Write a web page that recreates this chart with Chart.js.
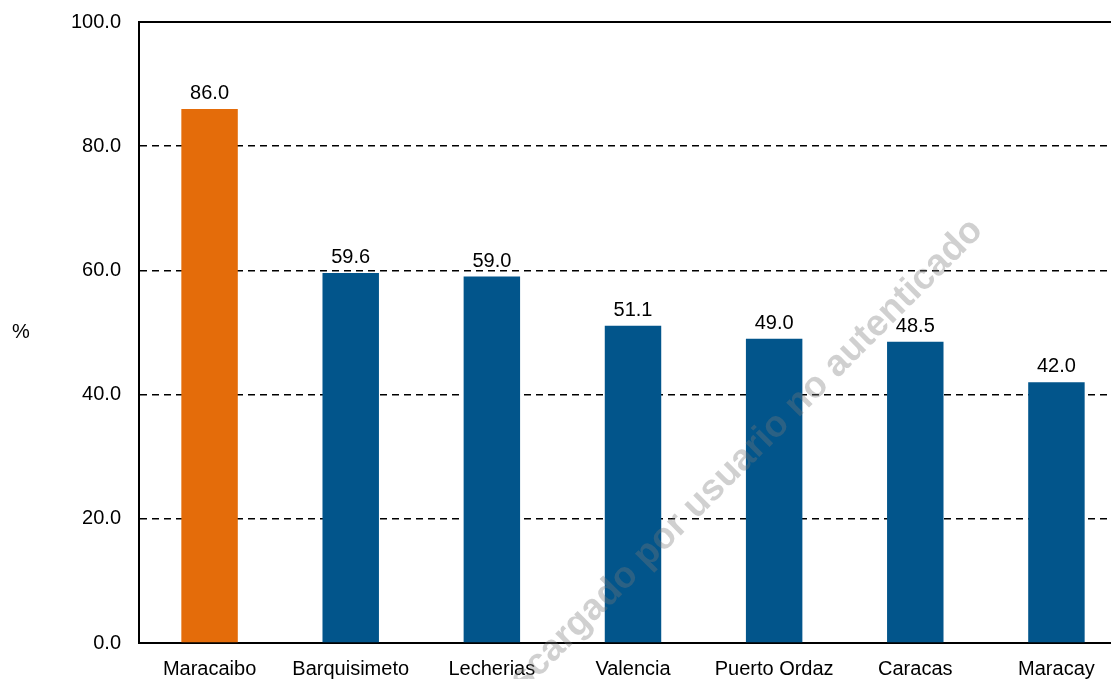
<!DOCTYPE html>
<html>
<head>
<meta charset="utf-8">
<script src="https://cdn.jsdelivr.net/npm/chart.js@4.4.0/dist/chart.umd.min.js"></script>
<style>
  html, body { margin: 0; padding: 0; background: #fff; overflow: hidden; }
  #wrap { width: 1130px; height: 679px; position: relative; }
</style>
</head>
<body>
<div id="wrap"><canvas id="myGraph"></canvas></div>
<script>
// values
let cities = ['Maracaibo', 'Barquisimeto', 'Lecherias', 'Valencia', 'Puerto Ordaz', 'Caracas', 'Maracay'];
let percents = [86.0, 59.6, 59.0, 51.1, 49.0, 48.5, 42.0];
let barColors = ['#E46C0A', '#02558B', '#02558B', '#02558B', '#02558B', '#02558B', '#02558B'];
let yTicks = [0, 20, 40, 60, 80, 100];

const font = 'Liberation Sans, Arial, sans-serif';

// labels over bars, "%" text, top frame line and the watermark
const extras = {
  id: 'extras',
  afterDatasetsDraw(chart) {
    const ctx = chart.ctx;
    const meta = chart.getDatasetMeta(0);
    ctx.save();
    ctx.fillStyle = '#000';
    ctx.font = '20px ' + font;
    ctx.textAlign = 'center';
    ctx.textBaseline = 'alphabetic';
    meta.data.forEach((bar, i) => {
      ctx.fillText(percents[i].toFixed(1), bar.x, bar.y - 10);
    });
    // top line at 100
    const a = chart.chartArea;
    ctx.strokeStyle = '#000';
    ctx.lineWidth = 2;
    ctx.beginPath();
    ctx.moveTo(a.left, a.top);
    ctx.lineTo(a.right, a.top);
    ctx.stroke();
    // axis unit
    ctx.textBaseline = 'middle';
    ctx.fillText('%', 21, 332);
    ctx.restore();
  },
  afterDraw(chart) {
    const ctx = chart.ctx;
    ctx.save();
    ctx.translate(730, 472);
    ctx.rotate(-Math.PI / 4);
    ctx.font = 'bold 37px ' + font;
    ctx.fillStyle = 'rgba(120,120,120,0.35)';
    ctx.textAlign = 'center';
    ctx.textBaseline = 'middle';
    ctx.fillText('Descargado por usuario no autenticado', 0, 0);
    ctx.restore();
  }
};

function totalGraph() {
  const ctx = document.getElementById('myGraph').getContext('2d');
  const data = {
    labels: cities,
    datasets: [{
      data: percents,
      backgroundColor: barColors,
      borderWidth: 0,
      barPercentage: 0.4,
      categoryPercentage: 1.0,
    }]
  };
  new Chart(ctx, {
    type: 'bar',
    data: data,
    plugins: [extras],
    options: {
      responsive: true,
      maintainAspectRatio: false,
      animation: false,
      layout: { padding: { top: 22, right: 3, left: 0, bottom: 0 } },
      plugins: {
        legend: { display: false },
        tooltip: { enabled: false },
      },
      scales: {
        x: {
          grid: { display: false },
          border: { display: true, color: '#000', width: 2 },
          ticks: {
            color: '#000',
            font: { family: font, size: 20 },
            autoSkip: false,
            maxRotation: 0,
            padding: 6,
          },
          afterFit(scale) { scale.height = 36; },
        },
        y: {
          min: 0,
          max: 100,
          afterBuildTicks(scale) { scale.ticks = yTicks.map(v => ({ value: v })); },
          grid: {
            drawTicks: false,
            color: c => (c.tick && (c.tick.value === 0 || c.tick.value === 100)) ? 'rgba(0,0,0,0)' : '#000',
            lineWidth: 1.5,
          },
          border: { display: true, color: '#000', width: 2, dash: [7, 5] },
          ticks: {
            color: '#000',
            font: { family: font, size: 20 },
            padding: 18,
            callback: v => v.toFixed(1),
          },
          afterFit(scale) {
            scale.width = 139;
            scale.paddingTop = 0;
            scale.paddingBottom = 0;
          },
        }
      }
    }
  });
}
totalGraph();
</script>
</body>
</html>
